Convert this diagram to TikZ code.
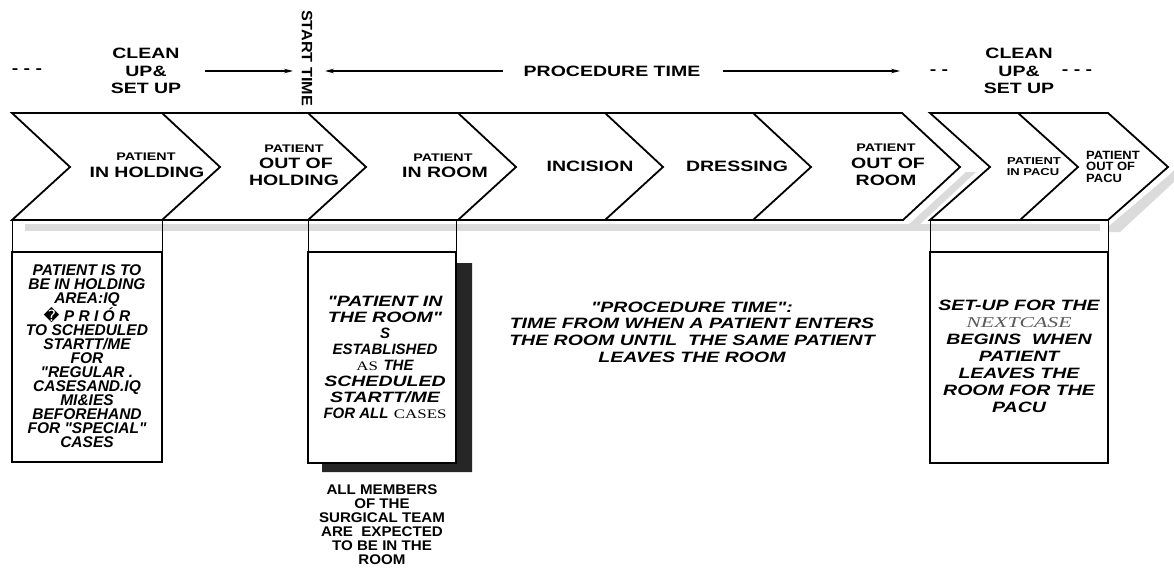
\documentclass[tikz,border=0pt]{standalone}
\usepackage{fontspec}
\setmainfont{Liberation Sans}
\newfontfamily\plainsans{Liberation Sans}
\newfontfamily\wide[FakeStretch=1.3]{Liberation Sans}
\newfontfamily\semi[FakeStretch=1.08]{Liberation Sans}
\newfontfamily\wideser[FakeStretch=1.3]{Liberation Serif}
\newfontfamily\wideserx[FakeStretch=1.45]{Liberation Serif}
\newfontfamily\symf{DejaVu Sans}
\usetikzlibrary{arrows.meta}
\newcommand\mynar[1]{{\plainsans #1}}
\newcommand\myser[1]{{\wideser\mdseries\upshape\fontsize{13}{16}\selectfont #1}}
\begin{document}
\begin{tikzpicture}[x=1pt,y=-1pt,
  bar/.style={line width=1.8pt, line join=miter},
  boxline/.style={line width=1.3pt},
  thinline/.style={line width=0.8pt},
  shade/.style={fill=gray!28},
  lbl/.style={font=\wide\bfseries\fontsize{15}{17.5}\selectfont, align=center, inner sep=0pt},
  small/.style={font=\wide\bfseries\fontsize{11}{13}\selectfont, inner sep=0pt},
  tiny/.style={font=\wide\bfseries\fontsize{10}{11}\selectfont, inner sep=0pt},
  arr/.style={line width=1.1pt, -{Stealth[length=9pt,width=4.5pt]}},
  btext/.style={align=center, inner sep=0pt}]
\useasboundingbox[fill=white] (0,0) rectangle (1174,567);

% ---- shadows ----
\fill[shade] (25,224) rectangle (1100,231);
\fill[shade] (907,226) -- (966,172) -- (976,172) -- (918,226) -- cycle;
\fill[shade] (1168,176) -- (1174,170) -- (1174,182) -- (1120,232) -- (1109,232) -- (1109,226) -- cycle;

% ---- chevron bar, part A ----
\draw[bar] (12,113) -- (902,113) -- (960,167) -- (903,220) -- (12,220) -- (70,167) -- cycle;
\foreach \xt in {162,308,458,605,753}
  \draw[bar] (\xt,113) -- (\xt+58,167) -- (\xt,220);
% ---- chevron bar, part B ----
\draw[bar] (930,113) -- (1108,113) -- (1168,167) -- (1108,220) -- (930,220) -- (990,167) -- cycle;
\draw[bar] (1018,113) -- (1078,167) -- (1020,220);

% ---- boxes ----
\draw[thinline] (12,220) -- (12,252) (162,220) -- (162,252);
\draw[boxline] (12,252) rectangle (162,462);

\fill[black!85] (456,263) -- (472,263) -- (472,472) -- (322,472) -- (322,463) -- (456,463) -- cycle;
\draw[thinline] (308,220) -- (308,252) (456,220) -- (456,252);
\draw[boxline, fill=white] (308,252) rectangle (456,463);

\draw[thinline] (930,220) -- (930,252) (1108,220) -- (1108,252);
\draw[boxline] (930,252) rectangle (1108,463);

% ---- top labels ----
\node[lbl] (cu1) at (146,71) {CLEAN\\UP\&\\SET UP};
\node[lbl] (cu2) at (1019,71) {CLEAN\\UP\&\\SET UP};
\node[lbl] (d1) at (27,71) {- - -};
\node[lbl] (d2) at (939,72) {- -};
\node[lbl] (d3) at (1077,72) {- - -};
\node[lbl] (pt) at (612,71) {PROCEDURE TIME};
\node[inner sep=0pt, rotate=-90, font=\semi\bfseries\fontsize{15}{15}\selectfont] (st) at (307,58) {START TIME};

\coordinate (a1s) at (205,71);
\coordinate (a1e) at (293,71);
\coordinate (a2s) at (503,71);
\coordinate (a2e) at (325,71);
\coordinate (a3s) at (723,71);
\coordinate (a3e) at (900,71);
\draw[arr] (a1s) -- (a1e);
\draw[arr] (a2s) -- (a2e);
\draw[arr] (a3s) -- (a3e);

% ---- chevron labels ----
\node[small] (c1a) at (146,157) {PATIENT};
\node[lbl] (c1b) at (147,172) {IN HOLDING};
\node[small] (c2a) at (294,149) {PATIENT};
\node[lbl] (c2b) at (296,163) {OUT OF};
\node[lbl] (c2c) at (294,180) {HOLDING};
\node[small] (c3a) at (443,158) {PATIENT};
\node[lbl] (c3b) at (445,172) {IN ROOM};
\node[lbl] (c4) at (590,166) {INCISION};
\node[lbl] (c5) at (737,166) {DRESSING};
\node[small] (c6a) at (886,148) {PATIENT};
\node[lbl] (c6b) at (888,163) {OUT OF};
\node[lbl] (c6c) at (886,180) {ROOM};
\node[tiny] (c7a) at (1034,161) {PATIENT};
\node[tiny] (c7b) at (1033,172) {IN PACU};
\node[align=left, anchor=west, inner sep=0pt, font=\semi\bfseries\fontsize{12}{11.5}\selectfont] (c8) at (1086,166.5) {PATIENT\\OUT OF\\PACU};

% ---- box texts ----
\node[btext, font=\plainsans\bfseries\itshape\fontsize{15.5}{14}\selectfont] (t1) at (87,356)
 {PATIENT IS TO\\BE IN HOLDING\\AREA:IQ\\{\symf\upshape\mdseries\char"FFFD} P R I Ó R\\TO SCHEDULED\\STARTT/ME\\FOR\\"REGULAR .\\CASESAND.IQ\\MI\&IES\\BEFOREHAND\\FOR "SPECIAL"\\CASES};

\node[btext, font=\wide\bfseries\itshape\fontsize{15}{15.9}\selectfont] (t2) at (385,357.5)
 {"PATIENT IN\\THE ROOM"\\\mynar{S}\\\mynar{ESTABLISHED}\\\myser{AS} \mynar{THE}\\SCHEDULED\\STARTT/ME\\\mynar{FOR ALL} \myser{CASES}};

\node[btext, font=\wide\bfseries\itshape\fontsize{15}{16.7}\selectfont] (t3) at (692,332)
 {"PROCEDURE TIME":\\TIME FROM WHEN A PATIENT ENTERS\\THE ROOM UNTIL\ \ THE SAME PATIENT\\LEAVES THE ROOM};

\node[btext, font=\wide\bfseries\itshape\fontsize{15}{17}\selectfont] (t4) at (1019,356)
 {SET-UP FOR THE\\{\wideserx\mdseries\itshape\color{black!65}NEXTCASE}\\BEGINS\ \ WHEN\\PATIENT\\LEAVES THE\\ROOM FOR THE\\PACU};

\node[btext, font=\semi\bfseries\fontsize{14}{14}\selectfont] (t5) at (382,525)
 {ALL MEMBERS\\OF THE\\SURGICAL TEAM\\ARE\ \ EXPECTED\\TO BE IN THE\\ROOM};
\end{tikzpicture}
\end{document}
